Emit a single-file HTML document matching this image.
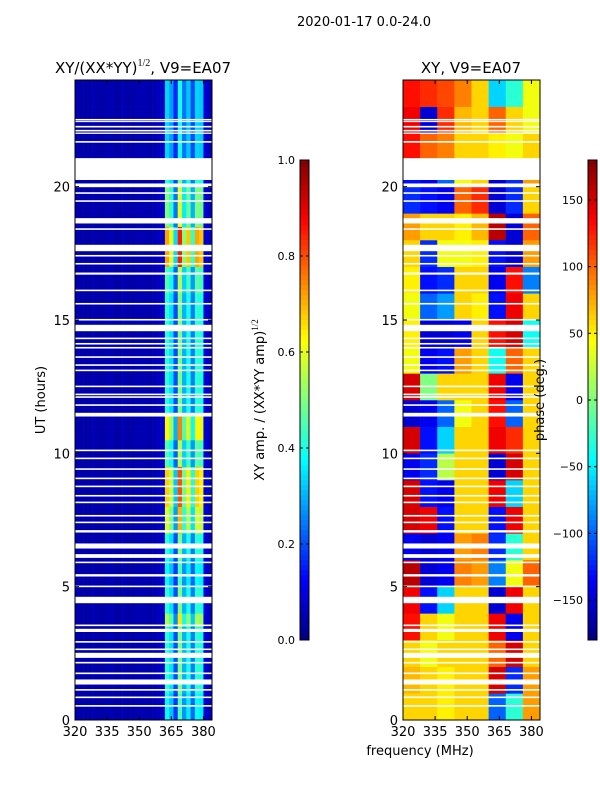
<!DOCTYPE html>
<html><head><meta charset="utf-8">
<style>
body{margin:0;background:#fff;width:600px;height:800px;overflow:hidden}
svg{display:block;font-family:"DejaVu Sans","Liberation Sans",sans-serif}
text{fill:#000}
</style></head>
<body>
<svg id="fig" width="600" height="800" viewBox="0 0 600 800">
<text x="364" y="26" font-size="13" text-anchor="middle">2020-01-17 0.0-24.0</text>
<text x="143" y="73" font-size="15" text-anchor="middle">XY/(XX*YY)<tspan font-size="10" dy="-7" font-family="Liberation Serif">1/2</tspan><tspan dy="7">, V9=EA07</tspan></text>
<text x="471" y="73" font-size="15" text-anchor="middle">XY, V9=EA07</text>
<text x="45" y="400" font-size="13" text-anchor="middle" transform="rotate(-90 45 400)">UT (hours)</text>
<text x="420" y="755" font-size="13" text-anchor="middle">frequency (MHz)</text>
<text x="264" y="400" font-size="13" text-anchor="middle" transform="rotate(-90 264 400)">XY amp. / (XX*YY amp)<tspan font-size="9" dy="-6" font-family="Liberation Serif">1/2</tspan></text>
<g id="amp"></g>
<g id="phs"></g>
<g id="axes"></g>
<g id="cb"></g>
<text x="544" y="400" font-size="13" text-anchor="middle" transform="rotate(-90 544 400)">phase (deg.)</text>
</svg>
<script>
// frequency bins (MHz, 2 MHz wide) amplitude
const ampFreqStart = [320,322,324,326,328,330,332,334,336,338,340,342,344,346,348,350,352,354,356,358,360,362,364,366,368,370,372,374,376,378,380,382];
const ampFreqValues = [0.05,0.04,0.04,0.04,0.05,0.04,0.04,0.05,0.05,0.04,0.04,0.05,0.04,0.04,0.05,0.05,0.05,0.04,0.05,0.06,0.07,0.42,0.35,0.2,0.5,0.3,0.4,0.25,0.42,0.4,0.08,0.06];
// half-hour gain per time bin (0-0.5h first)
const ampHourGain = [0.9,0.9,1.0,1.0,1.0,1.0,1.0,1.3,1.0,1.0,0.9,0.9,1.0,1.0,1.4,1.4,1.6,1.6,1.6,1.1,1.1,1.5,1.5,1.0,1.0,1.0,1.0,1.0,1.0,1.0,1.0,1.0,1.1,1.1,1.7,1.7,1.7,1.2,1.2,1.2,1.0,1.0,0.8,0.8,0.8,0.8,0.8,0.8];
// phase grid: hourly rows (0h first), 8 MHz columns
const phaseFreqStart = [320,328,336,344,352,360,368,376];
const phaseValues = [
[60,60,50,60,60,-100,-30,80],
[70,60,50,60,60,150,-120,80],
[60,40,60,60,60,100,150,60],
[130,60,40,60,60,140,-140,60],
[140,-130,-60,60,60,-150,140,60],
[160,-150,-140,90,80,-90,40,100],
[-140,-150,-140,80,90,-120,-30,60],
[150,140,-130,60,60,-130,140,60],
[150,-130,-140,60,60,140,-60,60],
[-140,-120,20,60,60,-150,150,60],
[150,-130,-60,60,60,140,120,60],
[-150,-140,-100,40,60,130,-100,60],
[150,0,60,60,60,140,-140,60],
[40,-140,-130,80,60,-40,100,60],
[50,-150,-150,-140,60,130,150,-40],
[40,-100,-80,60,50,-130,140,60],
[50,-130,-120,60,60,-140,130,-90],
[60,-120,40,40,50,-130,-150,80],
[80,60,60,50,70,160,-150,100],
[-120,-130,-140,100,120,-150,-120,60],
[-130,-140,-100,40,60,-150,-120,80],
[130,100,90,60,60,50,40,60],
[140,-150,120,70,60,100,60,40],
[130,120,110,90,60,-60,-30,40]];
// flagged (white) time ranges in hours
const flagStart = [0.5,0.82,1.1,1.33,1.72,2.12,2.33,2.62,2.9,3.3,3.52,4.38,4.98,5.38,5.88,6.08,6.43,7.03,7.38,7.63,8.13,8.38,8.73,9.03,9.38,9.78,10.08,11.38,11.78,12.08,12.18,12.48,13.08,13.28,13.58,13.93,14.08,14.28,14.58,14.98,15.58,16.08,16.7,17.08,17.38,17.58,18.38,18.62,19.43,19.73,19.98,20.25,21.65,21.98,22.07,22.22,22.42,22.48];
const flagEnd   = [0.56,0.88,1.16,1.52,1.78,2.18,2.52,2.68,2.96,3.42,3.58,4.62,5.04,5.47,5.94,6.22,6.62,7.12,7.44,7.69,8.19,8.44,8.79,9.09,9.44,9.84,10.14,11.52,11.84,12.14,12.24,12.54,13.14,13.34,13.64,13.99,14.14,14.34,14.82,15.04,15.64,16.14,16.78,17.14,17.44,17.82,18.44,18.82,19.49,19.79,20.12,21.07,21.71,22.03,22.13,22.28,22.46,22.54];
const xTicks = [320,335,350,365,380];
const yTicks = [0,5,10,15,20];
const ampTicks = [0.0,0.2,0.4,0.6,0.8,1.0];
const phaseTicks = [-150,-100,-50,0,50,100,150];

const NS='http://www.w3.org/2000/svg';
const Y0=80,Y1=720;
const panels=[{x0:75,x1:212},{x0:403,x1:540}];
const FMIN=320,FMAX=384;
function fx(p,f){return p.x0+(f-FMIN)/(FMAX-FMIN)*(p.x1-p.x0);}
function ty(h){return Y1-h/24*(Y1-Y0);}
function jet(v){v=Math.max(0,Math.min(1,v));
 const c=x=>Math.round(255*Math.max(0,Math.min(1,x)));
 return `rgb(${c(1.5-Math.abs(4*v-3))},${c(1.5-Math.abs(4*v-2))},${c(1.5-Math.abs(4*v-1))})`;}
function mk(tag,attrs,parent){const e=document.createElementNS(NS,tag);for(const k in attrs)e.setAttribute(k,attrs[k]);parent.appendChild(e);return e;}
const amp=document.getElementById('amp'),phs=document.getElementById('phs'),axes=document.getElementById('axes'),cb=document.getElementById('cb');
ampHourGain.forEach((g,i)=>{ampFreqStart.forEach((f,j)=>{
 const p=panels[0];const x=fx(p,f),w=fx(p,f+2)-x;const ya=ty((i+1)*0.5),yb=ty(i*0.5);
 const v=ampFreqValues[j]>0.15?ampFreqValues[j]*g:ampFreqValues[j];
 const r=mk('rect',{x:x,y:ya,width:w+0.3,height:yb-ya+0.3,fill:jet(v)},amp);
 
 
});});
phaseValues.forEach((row,i)=>{row.forEach((d,j)=>{
 const p=panels[1];const f=phaseFreqStart[j];const x=fx(p,f),w=fx(p,f+8)-x;const ya=ty(i+1),yb=ty(i);
 const r=mk('rect',{x:x,y:ya,width:w+0.3,height:yb-ya+0.3,fill:jet((d+180)/360)},phs);
 
 
});});
panels.forEach((p,k)=>{flagStart.forEach((s,i)=>{
 const ya=ty(flagEnd[i]),yb=ty(s);
 const r=mk('rect',{x:p.x0,y:ya,width:p.x1-p.x0,height:yb-ya,fill:'#fff'},k?phs:amp);
 
 
});});
panels.forEach((p,k)=>{
 const fr=mk('rect',{x:p.x0,y:Y0,width:p.x1-p.x0,height:Y1-Y0,fill:'none',stroke:'#000','stroke-width':1},axes);
 
 
 xTicks.forEach(t=>{const x=fx(p,t);
  mk('line',{x1:x,x2:x,y1:Y1,y2:Y1-4,stroke:'#000'},axes);
  mk('line',{x1:x,x2:x,y1:Y0,y2:Y0+4,stroke:'#000'},axes);
  const tx=mk('text',{x:x,y:Y1+16,'font-size':13,'text-anchor':'middle'},axes);tx.textContent=t;
  
  
 });
 yTicks.forEach(t=>{const y=ty(t);
  mk('line',{x1:p.x0,x2:p.x0+4,y1:y,y2:y,stroke:'#000'},axes);
  mk('line',{x1:p.x1,x2:p.x1-4,y1:y,y2:y,stroke:'#000'},axes);
  const tx=mk('text',{x:p.x0-5,y:y+5,'font-size':13,'text-anchor':'end'},axes);tx.textContent=t;
  
  
 });
});
const CB0=160,CB1=640;
[[300,ampTicks,0,1],[588,phaseTicks,-180,180]].forEach(([x,ticks,lo,hi],k)=>{
 for(let i=0;i<96;i++){const r=mk('rect',{x:x,y:CB1-(i+1)*5,width:9,height:5.3,fill:jet((i+0.5)/96)},cb);
  
  }
 const fr=mk('rect',{x:x,y:CB0,width:9,height:CB1-CB0,fill:'none',stroke:'#000'},cb);
 
 
 ticks.forEach(t=>{const y=CB1-(t-lo)/(hi-lo)*(CB1-CB0);
  mk('line',{x1:x,x2:x+3,y1:y,y2:y,stroke:'#000'},cb);
  mk('line',{x1:x+9,x2:x+6,y1:y,y2:y,stroke:'#000'},cb);
  const tx=mk('text',{x:x-5,y:y+4,'font-size':11,'text-anchor':'end'},cb);
  tx.textContent=k?(t<0?'\u2212'+(-t):t):t.toFixed(1);
  
  
 });
});
</script>
</body></html>
